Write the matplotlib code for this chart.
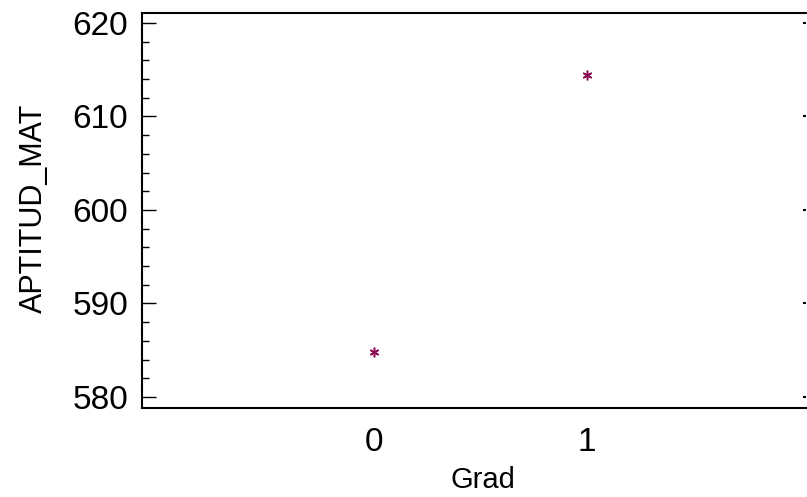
import matplotlib
matplotlib.use("Agg")
import matplotlib.pyplot as plt
from matplotlib.ticker import MultipleLocator

plt.rcParams['font.family'] = ['Liberation Sans', 'DejaVu Sans']

# data
grad = [0, 1]
aptitud_mat = [584.84, 614.4]
yticks = [580, 590, 600, 610, 620]
xticks = [0, 1]

fig = plt.figure(figsize=(8.07, 4.97), dpi=100)
ax = fig.add_axes([142/807, 1 - 408/497, (806 - 142)/807, (408 - 13)/497])

ax.plot(grad, aptitud_mat, linestyle='none', marker=(6, 2, 0),
        markersize=7, markeredgewidth=1.1, color='#8B0A50')

ax.set_xlim(-1.09, 2.03)
ax.set_ylim(578.82, 621.07)
ax.set_xticks(xticks)
ax.set_yticks(yticks)
ax.yaxis.set_minor_locator(MultipleLocator(2))

for s in ['left', 'bottom', 'top']:
    ax.spines[s].set_linewidth(1.5)
ax.spines['right'].set_visible(False)

ax.tick_params(axis='x', length=0, labelsize=24, pad=14)
ax.tick_params(axis='y', which='major', direction='in', length=10, width=1,
               labelsize=24, pad=10)
ax.tick_params(axis='y', which='major', right=True)
ax.tick_params(axis='y', which='minor', direction='in', length=5, width=1)
for t in ax.yaxis.get_major_ticks():
    t.tick2line.set_markersize(2)
    t.tick2line.set_markeredgewidth(1.5)

ax.set_xlabel('Grad', fontsize=21)
ax.xaxis.set_label_coords(0.514, -0.148)
ax.set_ylabel('APTITUD_MAT', fontsize=22)
ax.yaxis.set_label_coords(-0.14, 0.506)

fig.savefig('out.png', dpi=100)
